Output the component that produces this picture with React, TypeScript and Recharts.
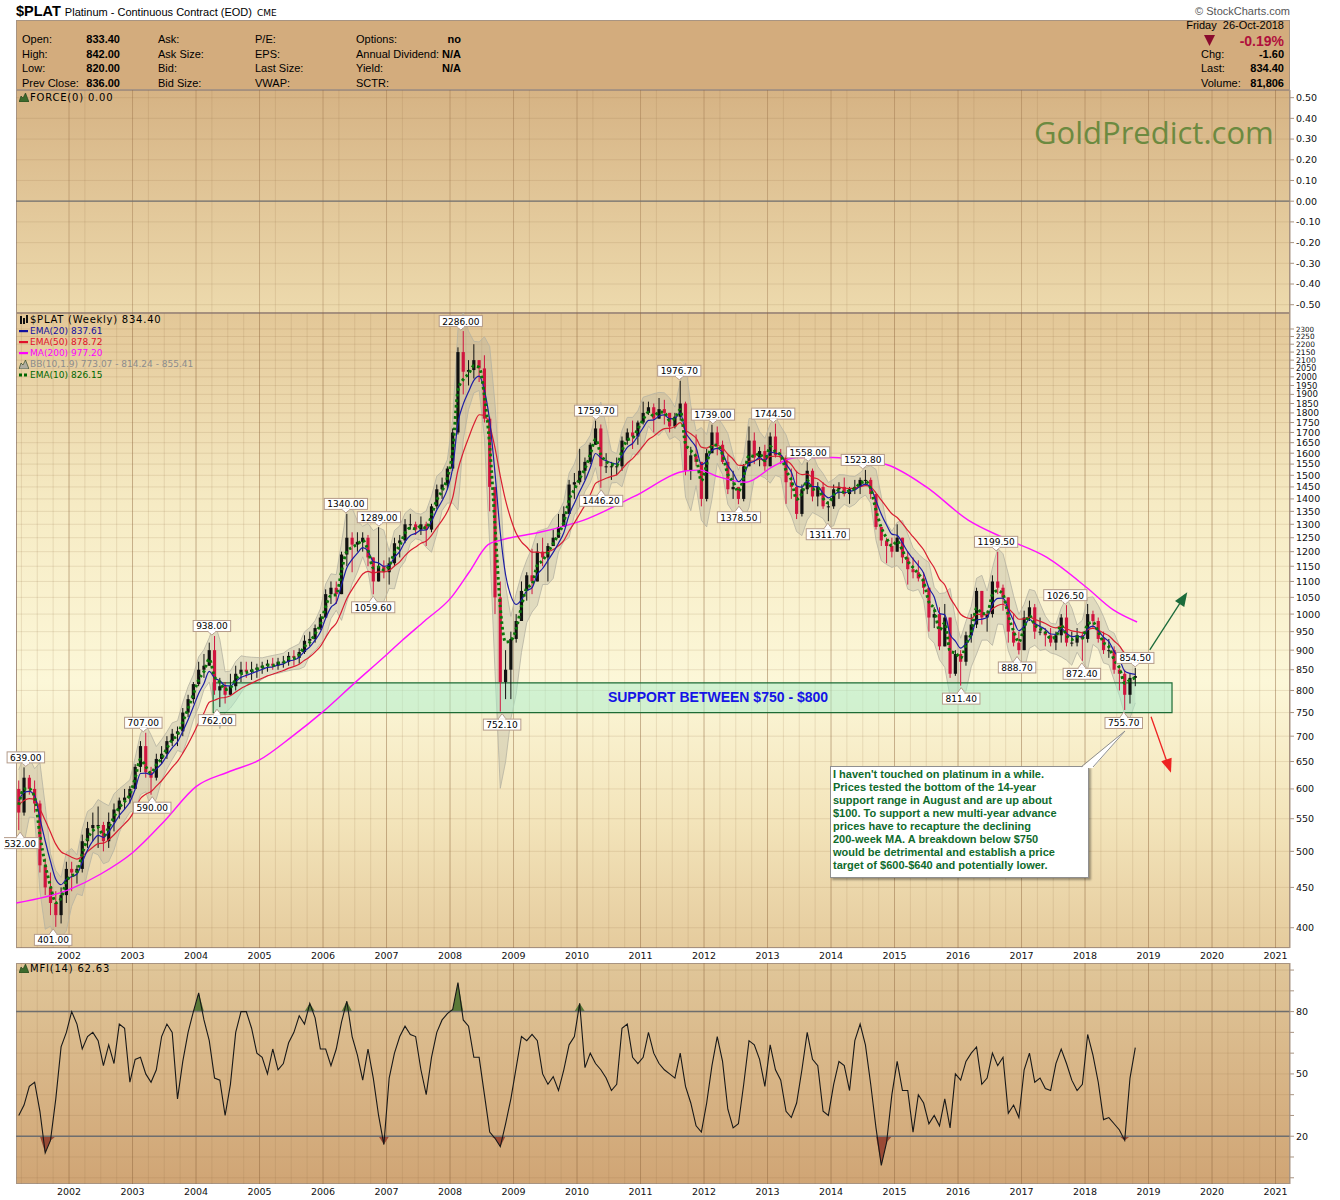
import React from 'react';
import {
  ComposedChart, Line, Bar, Area, XAxis, YAxis, CartesianGrid,
  ReferenceLine, ReferenceArea, ReferenceDot,
} from 'recharts';

// ---------- time axis ----------
const X_MIN = 2001.165;
const X_MAX = 2021.228;
const yearTicks = [2002, 2003, 2004, 2005, 2006, 2007, 2008, 2009, 2010, 2011, 2012, 2013, 2014, 2015, 2016, 2017, 2018, 2019, 2020, 2021];
const quarterLines: number[] = [];
for (let k = 0; k < 80; k++) quarterLines.push(2001.25 + k * 0.25);

// first month shown: March 2001 (monthly bars)
const FIRST_YEAR = 2001;
const FIRST_MONTH = 2; // 0-based -> March
const firstOpen = 600;

// ---------- monthly price values ----------
const closes = [
  560, 620, 600, 575, 480, 450, 430, 415, 440, 475, // 2001
  470, 475, 515, 535, 540, 540, 515, 545, 565, 580, 585, 600, // 2002
  640, 680, 630, 620, 655, 665, 690, 705, 710, 750, 780, 815, // 2003
  850, 860, 900, 800, 810, 790, 810, 840, 850, 845, 850, 855, // 2004
  860, 865, 860, 870, 870, 885, 880, 895, 925, 930, 960, 990, // 2005
  1060, 1080, 1060, 1190, 1250, 1225, 1235, 1250, 1180, 1100, 1150, 1130, // 2006
  1160, 1230, 1240, 1300, 1300, 1280, 1300, 1280, 1370, 1440, 1460, 1530, // 2007
  1700, 2150, 2030, 2040, 2100, 2050, 1770, 1450, 1050, 820, 850, 930, // 2008
  980, 1070, 1120, 1100, 1200, 1180, 1220, 1250, 1290, 1340, 1460, 1470, // 2009
  1520, 1560, 1640, 1720, 1540, 1540, 1540, 1540, 1660, 1700, 1680, 1750, // 2010
  1800, 1830, 1770, 1820, 1800, 1730, 1780, 1850, 1520, 1590, 1560, 1400, // 2011
  1600, 1700, 1640, 1560, 1440, 1450, 1400, 1540, 1660, 1580, 1610, 1540, // 2012
  1680, 1590, 1580, 1470, 1450, 1340, 1440, 1520, 1410, 1450, 1370, 1370, // 2013
  1440, 1450, 1420, 1440, 1450, 1480, 1480, 1420, 1290, 1240, 1220, 1200, // 2014
  1250, 1180, 1140, 1130, 1110, 1080, 990, 1000, 910, 990, 840, 890, // 2015
  870, 940, 970, 1070, 990, 1000, 1100, 1080, 1050, 950, 920, 900, // 2016
  990, 1020, 950, 950, 940, 920, 940, 990, 920, 920, 940, 930, // 2017
  1000, 980, 930, 900, 900, 850, 840, 790, 830, 834.4, // 2018
];
const highs = [
  615, 639, 625, 615, 580, 490, 470, 445, 450, 485,
  485, 480, 525, 545, 560, 570, 545, 560, 575, 585, 600, 605,
  645, 690, 707, 640, 665, 680, 700, 715, 720, 760, 790, 820,
  870, 890, 920, 938, 830, 820, 840, 860, 870, 870, 870, 865,
  870, 875, 880, 880, 885, 895, 900, 905, 940, 950, 970, 1000,
  1075, 1100, 1100, 1200, 1340, 1270, 1270, 1270, 1260, 1180, 1289, 1170,
  1180, 1250, 1260, 1320, 1340, 1310, 1330, 1310, 1380, 1460, 1490, 1540,
  1720, 2180, 2286, 2100, 2200, 2100, 2130, 1780, 1450, 1100, 900, 950,
  1000, 1100, 1130, 1210, 1230, 1250, 1230, 1280, 1340, 1370, 1480, 1510,
  1620, 1580, 1650, 1759.7, 1740, 1600, 1560, 1580, 1680, 1720, 1760, 1760,
  1860, 1860, 1850, 1880, 1870, 1800, 1800, 1976.7, 1860, 1630, 1690, 1560,
  1620, 1739, 1730, 1660, 1590, 1520, 1450, 1550, 1730, 1700, 1630, 1640,
  1700, 1744.5, 1620, 1590, 1530, 1520, 1460, 1558, 1530, 1470, 1470, 1390,
  1460, 1470, 1490, 1450, 1480, 1490, 1523.8, 1490, 1420, 1290, 1250, 1250,
  1300, 1250, 1200, 1180, 1170, 1130, 1080, 1020, 1020, 1030, 990, 900,
  900, 950, 1000, 1080, 1070, 1010, 1120, 1199.5, 1090, 1050, 1000, 950,
  1010, 1040, 1030, 990, 960, 960, 950, 1000, 1026.5, 950, 960, 950,
  1030, 1010, 990, 950, 930, 910, 860, 850, 840, 854.5,
];
const lows = [
  532, 555, 590, 560, 470, 440, 415, 401, 405, 430,
  445, 455, 470, 505, 515, 505, 500, 505, 530, 550, 565, 575,
  600, 630, 620, 590, 615, 645, 655, 680, 680, 700, 740, 770,
  810, 830, 860, 790, 762, 770, 790, 800, 820, 830, 825, 830,
  840, 845, 850, 850, 855, 860, 860, 865, 890, 910, 920, 955,
  990, 1030, 1030, 1060, 1150, 1130, 1200, 1200, 1150, 1059.6, 1100, 1110,
  1090, 1150, 1180, 1230, 1280, 1260, 1260, 1220, 1270, 1360, 1400, 1440,
  1520, 1690, 1900, 1950, 1990, 1970, 1750, 1350, 1000, 752.1, 780, 780,
  920, 980, 1040, 1060, 1100, 1150, 1100, 1220, 1250, 1290, 1340, 1400,
  1460, 1480, 1550, 1640, 1446.2, 1510, 1480, 1500, 1520, 1640, 1620, 1640,
  1740, 1790, 1700, 1770, 1740, 1700, 1720, 1760, 1500, 1480, 1540, 1370,
  1390, 1600, 1590, 1550, 1420, 1400, 1378.5, 1390, 1540, 1550, 1540, 1520,
  1540, 1580, 1550, 1380, 1400, 1320, 1330, 1420, 1390, 1370, 1360, 1311.7,
  1360, 1400, 1410, 1380, 1420, 1420, 1460, 1400, 1280, 1220, 1160, 1180,
  1200, 1160, 1090, 1110, 1100, 1060, 950, 960, 900, 910, 830, 835,
  811.4, 860, 920, 960, 970, 950, 990, 1060, 1010, 920, 910, 888.7,
  900, 980, 930, 940, 910, 910, 900, 920, 910, 910, 910, 872.4,
  920, 960, 920, 890, 880, 840, 800, 755.7, 770, 810,
];

// ---------- MFI(14), monthly readings ----------
const mfiValues = [
  30, 35, 44, 46, 32, 12, 18, 38, 63, 70,
  80, 74, 62, 68, 70, 66, 54, 64, 55, 74, 72, 46,
  57, 58, 50, 46, 52, 68, 74, 70, 38, 56, 70, 80,
  89, 76, 66, 48, 47, 30, 45, 70, 80, 80, 72, 60,
  58, 50, 62, 52, 55, 65, 70, 78, 74, 84, 77, 62,
  62, 54, 62, 75, 85, 68, 59, 47, 62, 48, 30, 16,
  48, 60, 68, 73, 69, 68, 52, 40, 58, 70, 76, 79,
  81, 94, 76, 73, 58, 58, 40, 22, 19, 15, 26, 38,
  53, 68, 66, 69, 66, 50, 45, 48.7, 42, 52, 64, 68,
  84, 53, 60, 55, 52, 48, 42, 45, 72, 74, 58, 55,
  58, 70, 60, 55, 52, 50, 48, 60, 44, 36, 25, 22,
  36, 54, 68, 56, 33, 24, 26, 45, 66, 64, 57, 44,
  64, 52, 47, 32, 29, 36, 52, 70, 57, 54, 32, 30,
  45, 56, 54, 42, 66, 74, 64, 45, 24, 6, 17, 40,
  56, 42, 42, 22, 40, 36, 26, 30, 25, 38, 24, 50,
  47, 56, 60, 63, 45, 48, 60, 54, 58, 31, 35, 29,
  52, 60, 46, 48, 43, 42, 55, 62, 55, 47, 42, 45,
  69, 59, 46, 28, 29, 26, 23, 18, 48, 62.63,
];

// ---------- MA(200) readings ----------
const ma200Years = [2001.17, 2002.0, 2002.5, 2003.0, 2003.5, 2004.0, 2004.5, 2005.0, 2005.5, 2006.0, 2006.5, 2007.0, 2007.24, 2007.6, 2008.02, 2008.3, 2008.6, 2008.8, 2009.43, 2010.17, 2010.9, 2011.73, 2011.93, 2012.2, 2012.66, 2013.09, 2013.45, 2014.03, 2014.35, 2014.87, 2015.5, 2016.16, 2016.71, 2017.4, 2018.03, 2018.44, 2018.82];
const ma200Values = [430, 447, 468, 498, 546, 604, 630, 653, 698, 752, 818, 888, 925, 980, 1050, 1130, 1225, 1241, 1271, 1322, 1410, 1520, 1523, 1496, 1470, 1540, 1580, 1580, 1570, 1548, 1450, 1316, 1250, 1180, 1080, 1013, 977.2];

// ---------- peak / trough tags ----------
const tagYears = [2001.32, 2001.23, 2001.75, 2003.17, 2003.31, 2004.25, 2004.33, 2006.36, 2006.88, 2006.79, 2008.17, 2008.82, 2010.30, 2010.38, 2011.61, 2012.14, 2012.55, 2013.09, 2013.64, 2013.95, 2014.50, 2016.05, 2016.60, 2016.93, 2017.69, 2017.95, 2018.79, 2018.61];
const tagValues = [639, 532, 401, 707, 590, 938, 762, 1340, 1289, 1059.6, 2286, 752.1, 1759.7, 1446.2, 1976.7, 1739, 1378.5, 1744.5, 1558, 1311.7, 1523.8, 811.4, 1199.5, 888.7, 1026.5, 872.4, 854.5, 755.7];
const tagAbove = [true, false, false, true, false, true, false, true, true, false, true, false, true, false, true, true, false, true, true, false, true, false, true, false, true, false, true, false];

// ---------- axis ticks ----------
const priceTicks = [400, 450, 500, 550, 600, 650, 700, 750, 800, 850, 900, 950, 1000, 1050, 1100, 1150, 1200, 1250, 1300, 1350, 1400, 1450, 1500, 1550, 1600, 1650, 1700, 1750, 1800, 1850, 1900, 1950, 2000, 2050, 2100, 2150, 2200, 2250, 2300];
const forceTicks = [0.5, 0.4, 0.3, 0.2, 0.1, 0, -0.1, -0.2, -0.3, -0.4, -0.5];
const mfiGrid = [0, 10, 20, 30, 40, 50, 60, 70, 80, 90, 100];
const mfiLabels = [20, 50, 80];

// ---------- indicator calculations on the price values ----------
const emaOf = (vals: number[], alpha: number, seed: number) => {
  let e = seed;
  return vals.map((v) => (e = e + alpha * (v - e)));
};
const ema10 = emaOf(closes, 0.58, 590);
const ema20 = emaOf(closes, 0.35, 590);
const ema50 = emaOf(closes, 0.159, 575);

const rows = closes.map((c, i) => {
  const open = i === 0 ? firstOpen : closes[i - 1];
  const hi = Math.max(highs[i], open, c);
  const lo = Math.min(lows[i], open, c);
  const s = [highs[i], lows[i], c];
  if (i > 0) s.push(highs[i - 1], lows[i - 1], closes[i - 1]);
  const m = s.reduce((a, b) => a + b, 0) / s.length;
  const sd = Math.sqrt(s.reduce((a, b) => a + (b - m) * (b - m), 0) / s.length);
  const mfi = mfiValues[i];
  return {
    t: FIRST_YEAR + (FIRST_MONTH + i + 0.5) / 12,
    open, close: c, hl: [lo, hi],
    ema10: ema10[i], ema20: ema20[i], ema50: ema50[i],
    bb: [m - 1.9 * sd, m + 1.9 * sd],
    mfi,
    ob: [80, Math.max(80, mfi)],
    os: [Math.min(20, mfi), 20],
  };
});
const ma200Data = ma200Years.map((t, i) => ({ t, ma: ma200Values[i] }));

// ---------- layout ----------
const PLOT_L = 16;
const PLOT_W = 1274;
const CHART_LEFT = 4;
const M_LEFT = 12;
const YW = 46;
const CHART_W = M_LEFT + PLOT_W + YW;
const AXF = 'DejaVu Sans';
const GRID_Q = 'rgba(150,110,70,0.17)';
const GRID_Y = 'rgba(140,100,60,0.36)';
const BORDER = '#a89482';
const PX_PER_LN = 342.5;

const Candle = (p: any) => {
  const { x, y, width, height, payload } = p;
  if (!payload || height == null || isNaN(y)) return null;
  const [lo, hi] = payload.hl;
  const lh = Math.log(hi);
  const ll = Math.log(lo);
  const k = lh === ll ? 0 : height / (lh - ll);
  const py = (v: number) => y + (lh - Math.log(v)) * k;
  const cx = x + width / 2;
  const up = payload.close >= payload.open;
  const col = up ? '#111111' : '#d0143f';
  const top = py(Math.max(payload.open, payload.close));
  const bot = py(Math.min(payload.open, payload.close));
  return (
    <g>
      <line x1={cx} x2={cx} y1={y} y2={y + height} stroke={col} strokeWidth={1} />
      <rect x={cx - 1.6} y={top} width={3.2} height={Math.max(1, bot - top)} fill={col} />
    </g>
  );
};

// price axis labels: shrink where the log spacing gets tight
const PriceTick = (p: any) => {
  const { x, y, payload } = p;
  const v = payload.value;
  const gap = PX_PER_LN * Math.log((v + 50) / v);
  const fs = Math.min(9.5, gap * 0.97);
  return (
    <text x={x} y={y} dy="0.36em" textAnchor="start" fontSize={fs} fontFamily={AXF} fill="#111">{v}</text>
  );
};

const tagShape = (text: string, above: boolean) => (p: any) => {
  const { cx, cy } = p;
  if (cx == null || cy == null) return null;
  const w = (text.length - 1) * 5.72 + 2.9 + 6;
  const h = 11;
  const by = above ? cy - 15.5 : cy + 7.5;
  const baseY = above ? by + h : by;
  const tipY = above ? cy - 1 : cy + 2;
  return (
    <g>
      <rect x={cx - w / 2} y={by} width={w} height={h} fill="#ffffff" stroke="#b59c8a" strokeWidth={1} />
      <polygon points={`${cx - 4},${baseY} ${cx + 4},${baseY} ${cx},${tipY}`} fill="#ffffff" stroke="#b59c8a" strokeWidth={1} />
      <line x1={cx - 3.3} x2={cx + 3.3} y1={baseY} y2={baseY} stroke="#ffffff" strokeWidth={1.6} />
      <text x={cx} y={by + h / 2 + 0.5} textAnchor="middle" dominantBaseline="central" fontSize={9} fontFamily={AXF} fill="#000">{text}</text>
    </g>
  );
};

const arrowHead = (color: string, angle: number) => (p: any) => (
  <polygon points="0,0 -14,-5.5 -14,5.5" fill={color} transform={`translate(${p.cx},${p.cy}) rotate(${angle})`} />
);

const supportText = (p: any) => (
  <text x={p.cx} y={p.cy} textAnchor="middle" dominantBaseline="central" fontSize={14} fontWeight="bold" fontFamily="Liberation Sans" fill="#1414e6">
    SUPPORT BETWEEN $750 - $800
  </text>
);

const yearFmt = (v: number) => String(Math.round(v));
const tickStyle = { fontSize: 9.5, fill: '#111', fontFamily: AXF };

const Txt = ({ x, y, s = 11, w, c = '#000', r, f = 'Liberation Sans', ls, children }: any) => (
  <div style={{
    position: 'absolute', top: y - s * 0.6, lineHeight: `${Math.round(s * 1.2)}px`,
    ...(r != null ? { right: 1340 - r } : { left: x }),
    fontSize: s, fontWeight: w || 'normal', color: c, fontFamily: f, whiteSpace: 'nowrap',
    letterSpacing: ls || 0,
  }}>{children}</div>
);

const Mountain = ({ x, y, c = '#3c6a2c' }: any) => (
  <svg style={{ position: 'absolute', left: x, top: y }} width={10} height={9}>
    <polygon points="0,9 2,3 4,5 6.5,0 10,9" fill={c} stroke="#1f3a18" strokeWidth={0.6} />
  </svg>
);

const Swatch = ({ y, c, dotted }: any) => (
  <svg style={{ position: 'absolute', left: 19, top: y - 2 }} width={10} height={4}>
    {dotted ? (
      <g><rect x={0} y={0.5} width={3} height={3} fill={c} /><rect x={5} y={0.5} width={3} height={3} fill={c} /></g>
    ) : (
      <rect x={0} y={1} width={9} height={2.2} fill={c} />
    )}
  </svg>
);

const legendRows = [
  { text: 'EMA(20) 837.61', color: '#1010a0' },
  { text: 'EMA(50) 878.72', color: '#e0102a' },
  { text: 'MA(200) 977.20', color: '#ff00ff' },
  { text: 'BB(10,1.9) 773.07 - 814.24 - 855.41', color: '#8c8c8c', bb: true },
  { text: 'EMA(10) 826.15', color: '#006600', dotted: true },
];

const noteLines = [
  "I haven't touched on platinum in a while.",
  'Prices tested the bottom of the 14-year',
  'support range in August and are up about',
  '$100. To support a new multi-year advance',
  'prices have to recapture the declining',
  '200-week MA. A breakdown below $750',
  'would be detrimental and establish a price',
  'target of $600-$640 and potentially lower.',
];

export default function App() {
  return (
    <div style={{ position: 'absolute', left: 0, top: 0, width: 1340, height: 1200, background: '#ffffff', overflow: 'hidden', fontFamily: 'Liberation Sans' }}>
      {/* title */}
      <div style={{ position: 'absolute', left: 16, top: 3, whiteSpace: 'nowrap', lineHeight: '16px' }}>
        <span style={{ fontSize: 14.5, fontWeight: 'bold', fontFamily: 'Liberation Sans' }}>$PLAT</span>
        <span style={{ fontSize: 11, marginLeft: 4 }}>Platinum - Continuous Contract (EOD)</span>
        <span style={{ fontSize: 9, marginLeft: 5, fontFamily: AXF }}>CME</span>
      </div>
      <Txt r={1290} y={12} s={11} c="#555">© StockCharts.com</Txt>

      {/* header box */}
      <div style={{ position: 'absolute', left: PLOT_L, top: 20, width: PLOT_W, height: 70, background: '#d3ac7d', boxShadow: `inset 0 0 0 1px ${BORDER}` }} />
      <Txt x={22} y={40}>Open:</Txt>
      <Txt x={22} y={55}>High:</Txt>
      <Txt x={22} y={69}>Low:</Txt>
      <Txt x={22} y={84}>Prev Close:</Txt>
      <Txt r={120} y={40} w="bold">833.40</Txt>
      <Txt r={120} y={55} w="bold">842.00</Txt>
      <Txt r={120} y={69} w="bold">820.00</Txt>
      <Txt r={120} y={84} w="bold">836.00</Txt>
      <Txt x={158} y={40}>Ask:</Txt>
      <Txt x={158} y={55}>Ask Size:</Txt>
      <Txt x={158} y={69}>Bid:</Txt>
      <Txt x={158} y={84}>Bid Size:</Txt>
      <Txt x={255} y={40}>P/E:</Txt>
      <Txt x={255} y={55}>EPS:</Txt>
      <Txt x={255} y={69}>Last Size:</Txt>
      <Txt x={255} y={84}>VWAP:</Txt>
      <Txt x={356} y={40}>Options:</Txt>
      <Txt x={356} y={55}>Annual Dividend:</Txt>
      <Txt x={356} y={69}>Yield:</Txt>
      <Txt x={356} y={84}>SCTR:</Txt>
      <Txt r={461} y={40} w="bold">no</Txt>
      <Txt r={461} y={55} w="bold">N/A</Txt>
      <Txt r={461} y={69} w="bold">N/A</Txt>
      <Txt r={1284} y={26}>Friday&nbsp;&nbsp;26-Oct-2018</Txt>
      <svg style={{ position: 'absolute', left: 1204, top: 35 }} width={12} height={11}>
        <polygon points="0,0 11,0 5.5,11" fill="#8a0b2e" />
      </svg>
      <Txt r={1284} y={41} s={14} w="bold" c="#b0103c">-0.19%</Txt>
      <Txt x={1201} y={55}>Chg:</Txt>
      <Txt x={1201} y={69}>Last:</Txt>
      <Txt x={1201} y={84}>Volume:</Txt>
      <Txt r={1284} y={55} w="bold">-1.60</Txt>
      <Txt r={1284} y={69} w="bold">834.40</Txt>
      <Txt r={1284} y={84} w="bold">81,806</Txt>

      {/* panel backgrounds */}
      <div style={{ position: 'absolute', left: PLOT_L, top: 90, width: PLOT_W, height: 223, background: 'linear-gradient(#d6b384, #eddaad)', boxShadow: `inset 0 0 0 1px ${BORDER}` }} />
      <div style={{ position: 'absolute', left: PLOT_L, top: 313, width: PLOT_W, height: 635, background: 'linear-gradient(#e3c797 0%, #f6ebc4 30%, #fcf7d8 58%, #f3e4ba 80%, #e5cb9d 100%)', boxShadow: `inset 0 0 0 1px ${BORDER}` }} />
      <div style={{ position: 'absolute', left: PLOT_L, top: 963, width: PLOT_W, height: 221, background: 'linear-gradient(#e0c699, #d0a575)', boxShadow: `inset 0 0 0 1px ${BORDER}` }} />

      {/* FORCE panel */}
      <div style={{ position: 'absolute', left: CHART_LEFT, top: 90 }}>
        <ComposedChart width={CHART_W} height={223} data={rows} margin={{ top: 0, right: 0, bottom: 0, left: M_LEFT }}>
          <CartesianGrid verticalValues={quarterLines} stroke={GRID_Q} />
          <CartesianGrid verticalValues={yearTicks} horizontal={false} stroke={GRID_Y} />
          <XAxis type="number" dataKey="t" domain={[X_MIN, X_MAX]} allowDataOverflow ticks={yearTicks} hide />
          <YAxis orientation="right" type="number" domain={[-0.54, 0.537]} allowDataOverflow ticks={forceTicks} interval={0}
            tickFormatter={(v: number) => v.toFixed(2)} width={YW} tick={tickStyle} tickSize={4} tickMargin={2}
            stroke={BORDER} />
          <ReferenceLine y={0} stroke="#707070" strokeWidth={1.3} />
          <Line dataKey="forceNone" stroke="#000" dot={false} isAnimationActive={false} />
        </ComposedChart>
      </div>
      <Mountain x={19} y={93} />
      <Txt x={30} y={98} s={10} f={AXF} ls={0.8}>FORCE(0) 0.00</Txt>
      <div style={{ position: 'absolute', left: 1034, top: 112, fontSize: 31, fontFamily: 'Open Sans', color: '#6c8a40', whiteSpace: 'nowrap', lineHeight: '40px' }}>GoldPredict.com</div>

      {/* main price panel */}
      <div style={{ position: 'absolute', left: CHART_LEFT, top: 313 }}>
        <ComposedChart width={CHART_W} height={650} data={rows} margin={{ top: 0, right: 0, bottom: 0, left: M_LEFT }}>
          <CartesianGrid verticalValues={quarterLines} stroke={GRID_Q} />
          <CartesianGrid verticalValues={yearTicks} horizontal={false} stroke={GRID_Y} />
          <XAxis type="number" dataKey="t" domain={[X_MIN, X_MAX]} allowDataOverflow ticks={yearTicks} interval={0}
            tickFormatter={yearFmt} tickLine={false} axisLine={false} tickSize={0} tickMargin={4} height={15} tick={tickStyle} />
          <YAxis orientation="right" type="number" scale="log" domain={[377, 2410]} allowDataOverflow ticks={priceTicks} interval={0}
            width={YW} tick={PriceTick} tickSize={4} tickMargin={2} stroke={BORDER} />
          <Area dataKey="bb" type="linear" stroke="#b5b2a2" strokeWidth={0.8} fill="#a7a597" fillOpacity={0.3} isAnimationActive={false} />
          <Line data={ma200Data} dataKey="ma" type="monotone" stroke="#ff10ff" strokeWidth={1.4} dot={false} isAnimationActive={false} />
          <Line dataKey="ema50" type="monotone" stroke="#d81e32" strokeWidth={1.2} dot={false} isAnimationActive={false} />
          <Bar dataKey="hl" barSize={4} shape={Candle} isAnimationActive={false} />
          <Line dataKey="ema20" type="monotone" stroke="#1c1ca4" strokeWidth={1.2} dot={false} isAnimationActive={false} />
          <Line dataKey="ema10" type="monotone" stroke="#0a760a" strokeWidth={3} strokeDasharray="2.6 3" dot={false} isAnimationActive={false} />
          <ReferenceArea x1={2004.27} x2={2019.37} y1={750} y2={818} fill="#a8eecc" fillOpacity={0.5} stroke="#1d6b35" strokeWidth={1.2} ifOverflow="visible" />
          <ReferenceDot x={2012.22} y={785} r={0} ifOverflow="visible" shape={supportText} />
          {tagYears.map((t, i) => (
            <ReferenceDot key={`tag${i}`} x={t} y={tagValues[i]} r={0} ifOverflow="visible"
              shape={tagShape(tagValues[i].toFixed(2), tagAbove[i])} />
          ))}
          <ReferenceLine segment={[{ x: 2019.02, y: 901 }, { x: 2019.58, y: 1058 }]} stroke="#1b6b3b" strokeWidth={1.3} ifOverflow="visible" />
          <ReferenceDot x={2019.61} y={1066} r={0} ifOverflow="visible" shape={arrowHead('#1b6b3b', -57)} />
          <ReferenceLine segment={[{ x: 2019.04, y: 741 }, { x: 2019.33, y: 636 }]} stroke="#ee2222" strokeWidth={1.3} ifOverflow="visible" />
          <ReferenceDot x={2019.354} y={629} r={0} ifOverflow="visible" shape={arrowHead('#ee2222', 71)} />
        </ComposedChart>
      </div>

      {/* main legend */}
      <svg style={{ position: 'absolute', left: 19, top: 315 }} width={10} height={10}>
        <rect x={1} y={1} width={2} height={8} fill="#111" />
        <rect x={4} y={3} width={2} height={6} fill="#111" />
        <rect x={7} y={0} width={2} height={8} fill="#111" />
      </svg>
      <Txt x={30} y={320} s={10} f={AXF} ls={0.75}>$PLAT (Weekly) 834.40</Txt>
      {legendRows.map((r, i) => (
        <React.Fragment key={r.text}>
          {r.bb ? <Mountain x={19} y={327 + i * 11.1} c="#b0ada0" /> : <Swatch y={331 + i * 11.1} c={r.color} dotted={r.dotted} />}
          <Txt x={30} y={331 + i * 11.1} s={9} f={AXF} c={r.color}>{r.text}</Txt>
        </React.Fragment>
      ))}

      {/* commentary callout */}
      <div style={{ position: 'absolute', left: 830, top: 766, width: 257, height: 110, background: '#ffffff', border: '1px solid #8f8f8f', boxShadow: '2px 2px 2px rgba(0,0,0,0.35)' }}>
        {noteLines.map((l, i) => (
          <div key={i} style={{ position: 'absolute', left: 2, top: 0.5 + i * 13, fontSize: 11, fontWeight: 'bold', color: '#0f6b2c', whiteSpace: 'nowrap', lineHeight: '13px', fontFamily: 'Liberation Sans' }}>{l}</div>
        ))}
      </div>
      <svg style={{ position: 'absolute', left: 1070, top: 725 }} width={60} height={46}>
        <polygon points="11,43 23,43 55,6" fill="#ffffff" />
        <polyline points="11,42 55,6 23,42" fill="none" stroke="#8f8f8f" strokeWidth={1} />
      </svg>

      {/* MFI panel */}
      <div style={{ position: 'absolute', left: CHART_LEFT, top: 963 }}>
        <ComposedChart width={CHART_W} height={237} data={rows} margin={{ top: 0, right: 0, bottom: 0, left: M_LEFT }}>
          <CartesianGrid verticalValues={quarterLines} horizontalValues={mfiGrid} stroke={GRID_Q} />
          <CartesianGrid verticalValues={yearTicks} horizontal={false} stroke={GRID_Y} />
          <XAxis type="number" dataKey="t" domain={[X_MIN, X_MAX]} allowDataOverflow ticks={yearTicks} interval={0}
            tickFormatter={yearFmt} tickLine={false} axisLine={false} tickSize={0} tickMargin={4} height={16} tick={tickStyle} />
          <YAxis orientation="right" type="number" domain={[-3, 103.4]} allowDataOverflow ticks={mfiGrid} interval={0}
            tickFormatter={(v: number) => (mfiLabels.includes(v) ? String(v) : '')}
            width={YW} tick={tickStyle} tickSize={4} tickMargin={2} stroke={BORDER} />
          <ReferenceLine y={80} stroke="#6e6e6e" strokeWidth={1.5} />
          <ReferenceLine y={20} stroke="#6e6e6e" strokeWidth={1.5} />
          <Area dataKey="ob" type="linear" stroke="none" fill="#5b7a38" fillOpacity={1} isAnimationActive={false} />
          <Area dataKey="os" type="linear" stroke="none" fill="#9a4a35" fillOpacity={1} isAnimationActive={false} />
          <Line dataKey="mfi" type="linear" stroke="#181818" strokeWidth={1.1} dot={false} isAnimationActive={false} />
        </ComposedChart>
      </div>
      <Mountain x={19} y={964} />
      <Txt x={30} y={969} s={10} f={AXF} ls={0.8}>MFI(14) 62.63</Txt>
    </div>
  );
}
